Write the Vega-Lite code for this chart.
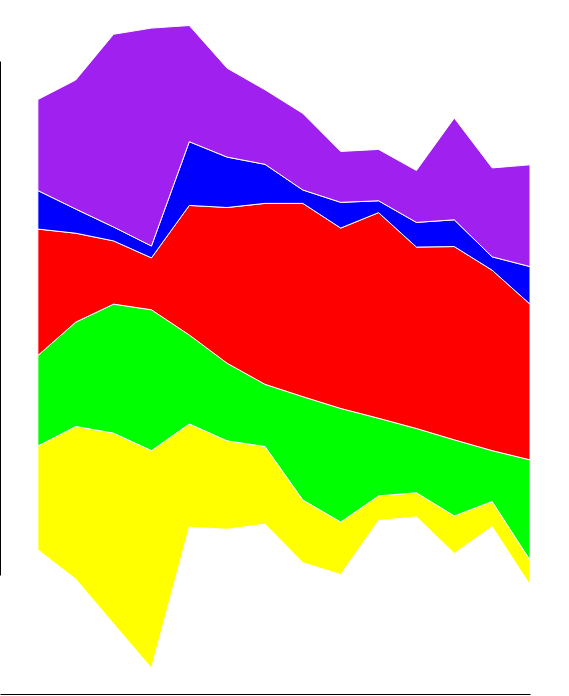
{
  "$schema": "https://vega.github.io/schema/vega-lite/v6.json",
  "width": 530,
  "height": 694,
  "padding": {"left": 0, "top": 0, "right": 39, "bottom": 2},
  "autosize": {"type": "none"},
  "config": {"view": {"stroke": null}},
  "data": {"values": [
    {"s": "A", "x": 1, "lo": 4.9, "hi": 25.1},
    {"s": "A", "x": 2, "lo": -0.8, "hi": 28.9},
    {"s": "A", "x": 3, "lo": -9.5, "hi": 27.6},
    {"s": "A", "x": 4, "lo": -18.1, "hi": 24.2},
    {"s": "A", "x": 5, "lo": 9.3, "hi": 29.4},
    {"s": "A", "x": 6, "lo": 8.9, "hi": 26.1},
    {"s": "A", "x": 7, "lo": 9.9, "hi": 25.0},
    {"s": "A", "x": 8, "lo": 2.4, "hi": 14.6},
    {"s": "A", "x": 9, "lo": 0.1, "hi": 10.3},
    {"s": "A", "x": 10, "lo": 10.6, "hi": 15.4},
    {"s": "A", "x": 11, "lo": 11.3, "hi": 16.0},
    {"s": "A", "x": 12, "lo": 4.2, "hi": 11.5},
    {"s": "A", "x": 13, "lo": 9.4, "hi": 14.3},
    {"s": "A", "x": 14, "lo": -1.9, "hi": 2.9},
    {"s": "B", "x": 1, "lo": 25.1, "hi": 42.7},
    {"s": "B", "x": 2, "lo": 28.9, "hi": 49.2},
    {"s": "B", "x": 3, "lo": 27.6, "hi": 52.7},
    {"s": "B", "x": 4, "lo": 24.2, "hi": 51.6},
    {"s": "B", "x": 5, "lo": 29.4, "hi": 46.7},
    {"s": "B", "x": 6, "lo": 26.1, "hi": 41.2},
    {"s": "B", "x": 7, "lo": 25.0, "hi": 37.1},
    {"s": "B", "x": 8, "lo": 14.6, "hi": 34.7},
    {"s": "B", "x": 9, "lo": 10.3, "hi": 32.4},
    {"s": "B", "x": 10, "lo": 15.4, "hi": 30.5},
    {"s": "B", "x": 11, "lo": 16.0, "hi": 28.5},
    {"s": "B", "x": 12, "lo": 11.5, "hi": 26.3},
    {"s": "B", "x": 13, "lo": 14.3, "hi": 24.2},
    {"s": "B", "x": 14, "lo": 2.9, "hi": 22.4},
    {"s": "C", "x": 1, "lo": 42.7, "hi": 67.3},
    {"s": "C", "x": 2, "lo": 49.2, "hi": 66.5},
    {"s": "C", "x": 3, "lo": 52.7, "hi": 65.0},
    {"s": "C", "x": 4, "lo": 51.6, "hi": 61.7},
    {"s": "C", "x": 5, "lo": 46.7, "hi": 71.9},
    {"s": "C", "x": 6, "lo": 41.2, "hi": 71.5},
    {"s": "C", "x": 7, "lo": 37.1, "hi": 72.3},
    {"s": "C", "x": 8, "lo": 34.7, "hi": 72.3},
    {"s": "C", "x": 9, "lo": 32.4, "hi": 67.5},
    {"s": "C", "x": 10, "lo": 30.5, "hi": 70.5},
    {"s": "C", "x": 11, "lo": 28.5, "hi": 63.8},
    {"s": "C", "x": 12, "lo": 26.3, "hi": 63.9},
    {"s": "C", "x": 13, "lo": 24.2, "hi": 59.3},
    {"s": "C", "x": 14, "lo": 22.4, "hi": 52.7},
    {"s": "D", "x": 1, "lo": 67.3, "hi": 74.8},
    {"s": "D", "x": 2, "lo": 66.5, "hi": 71.2},
    {"s": "D", "x": 3, "lo": 65.0, "hi": 67.7},
    {"s": "D", "x": 4, "lo": 61.7, "hi": 64.0},
    {"s": "D", "x": 5, "lo": 71.9, "hi": 84.3},
    {"s": "D", "x": 6, "lo": 71.5, "hi": 81.3},
    {"s": "D", "x": 7, "lo": 72.3, "hi": 79.9},
    {"s": "D", "x": 8, "lo": 72.3, "hi": 74.9},
    {"s": "D", "x": 9, "lo": 67.5, "hi": 72.5},
    {"s": "D", "x": 10, "lo": 70.5, "hi": 72.8},
    {"s": "D", "x": 11, "lo": 63.8, "hi": 68.6},
    {"s": "D", "x": 12, "lo": 63.9, "hi": 69.1},
    {"s": "D", "x": 13, "lo": 59.3, "hi": 61.9},
    {"s": "D", "x": 14, "lo": 52.7, "hi": 60.0},
    {"s": "E", "x": 1, "lo": 74.8, "hi": 92.5},
    {"s": "E", "x": 2, "lo": 71.2, "hi": 96.3},
    {"s": "E", "x": 3, "lo": 67.7, "hi": 105.2},
    {"s": "E", "x": 4, "lo": 64.0, "hi": 106.4},
    {"s": "E", "x": 5, "lo": 84.3, "hi": 106.9},
    {"s": "E", "x": 6, "lo": 81.3, "hi": 98.6},
    {"s": "E", "x": 7, "lo": 79.9, "hi": 94.4},
    {"s": "E", "x": 8, "lo": 74.9, "hi": 89.8},
    {"s": "E", "x": 9, "lo": 72.5, "hi": 82.4},
    {"s": "E", "x": 10, "lo": 72.8, "hi": 82.8},
    {"s": "E", "x": 11, "lo": 68.6, "hi": 78.7},
    {"s": "E", "x": 12, "lo": 69.1, "hi": 88.9},
    {"s": "E", "x": 13, "lo": 61.9, "hi": 79.2},
    {"s": "E", "x": 14, "lo": 60.0, "hi": 79.8}
  ]},
  "mark": {"type": "area", "stroke": "white", "strokeWidth": 1, "opacity": 1, "fillOpacity": 1, "clip": false},
  "encoding": {
    "x": {"field": "x", "type": "quantitative",
          "scale": {"domain": [0, 14], "nice": false, "zero": false},
          "axis": {"ticks": false, "labels": false, "title": null, "grid": false, "domainColor": "black"}},
    "y": {"field": "lo", "type": "quantitative",
          "scale": {"domain": [0, 100], "range": [575, 61], "nice": false, "zero": false},
          "axis": {"ticks": false, "labels": false, "title": null, "grid": false, "domainColor": "black"}},
    "y2": {"field": "hi"},
    "color": {"field": "s", "type": "nominal",
              "scale": {"domain": ["A", "B", "C", "D", "E"], "range": ["#ffff00", "#00ff00", "#ff0000", "#0000ff", "#a020f0"]},
              "legend": null}
  }
}
